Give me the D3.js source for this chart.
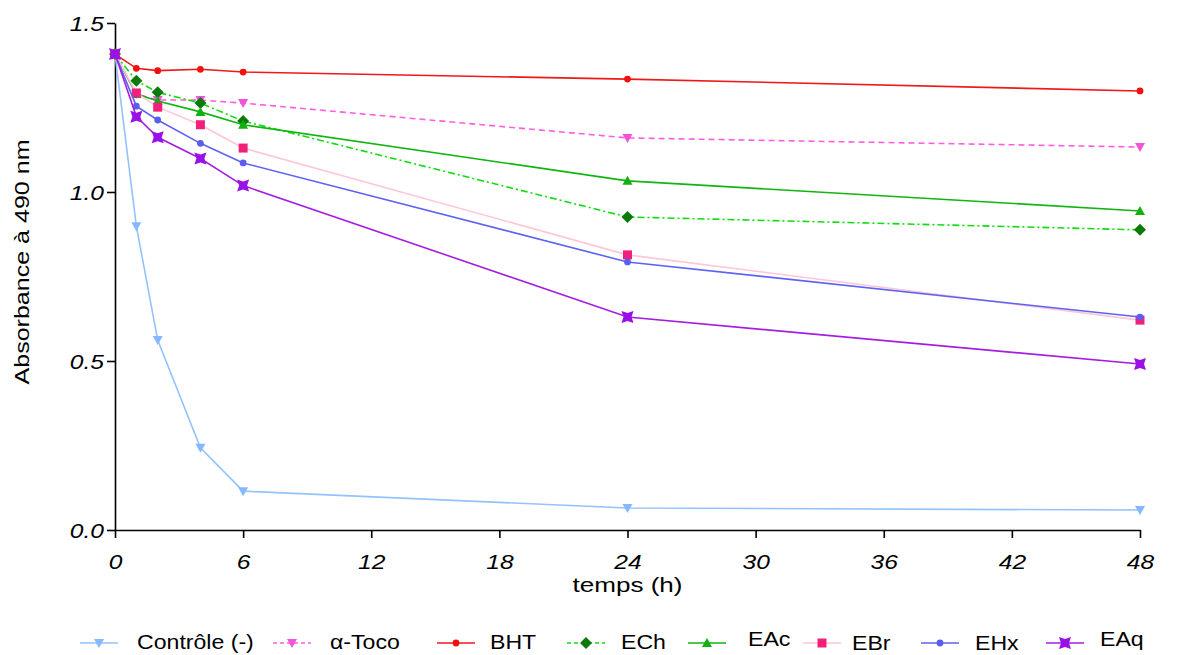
<!DOCTYPE html>
<html>
<head>
<meta charset="utf-8">
<script src="https://cdn.jsdelivr.net/npm/d3@7"></script>
<style>
  body { margin: 0; background: #fff; }
  svg text { font-family: "Liberation Sans", Arial, sans-serif; fill: #000; }
</style>
</head>
<body>
<div id="chart"></div>
<script>
// sampling times (h)
const times = [0, 1, 2, 4, 6, 24, 48];

// absorbance at 490 nm per extract
const controle = [1.408, 0.899, 0.562, 0.243, 0.115, 0.065, 0.059];
const toco     = [1.408, 1.290, 1.272, 1.272, 1.263, 1.160, 1.133];
const bht      = [1.408, 1.366, 1.359, 1.363, 1.355, 1.334, 1.299];
const ech      = [1.408, 1.329, 1.295, 1.263, 1.210, 0.926, 0.888];
const eac      = [1.408, 1.290, 1.269, 1.237, 1.199, 1.033, 0.944];
const ebr      = [1.408, 1.293, 1.251, 1.199, 1.130, 0.814, 0.621];
const ehx      = [1.408, 1.254, 1.213, 1.144, 1.086, 0.793, 0.630];
const eaq      = [1.408, 1.223, 1.162, 1.099, 1.019, 0.630, 0.491];

const seriesNames = ["Contrôle (-)", "α-Toco", "BHT", "ECh", "EAc", "EBr", "EHx", "EAq"];
const xTicks = [0, 6, 12, 18, 24, 30, 36, 42, 48];
const yTicks = [0, 0.5, 1.0, 1.5];

const series = [
  {name: seriesNames[0], values: controle, line: "#94c2ff", mark: "#86b8ff", shape: "tri", dash: null},
  {name: seriesNames[1], values: toco,     line: "#ff5ee0", mark: "#f055d8", shape: "tri", dash: "6,4"},
  {name: seriesNames[2], values: bht,      line: "#f01818", mark: "#f01010", shape: "circle", dash: null},
  {name: seriesNames[3], values: ech,      line: "#10dd10", mark: "#0a7a0a", shape: "diamond", dash: "7,3,2,3"},
  {name: seriesNames[4], values: eac,      line: "#12b412", mark: "#10b010", shape: "triup", dash: null},
  {name: seriesNames[5], values: ebr,      line: "#ffc6d6", mark: "#f2207a", shape: "square", dash: null},
  {name: seriesNames[6], values: ehx,      line: "#5e62f2", mark: "#5a5ef0", shape: "circle", dash: null},
  {name: seriesNames[7], values: eaq,      line: "#a51ee0", mark: "#9a10e8", shape: "xsq", dash: null}
];

const W = 1177, H = 655;
const m = {left: 115, right: 37, top: 23, bottom: 125};
const stretch = 1.17; // reference glyphs are a bit wider than Liberation Sans

const svg = d3.select("#chart").append("svg")
  .attr("width", W).attr("height", H);

const x = d3.scaleLinear().domain([0, 48]).range([m.left, W - m.right]);
const y = d3.scaleLinear().domain([0, 1.5]).range([H - m.bottom, m.top]);

function widen(sel, k) {
  sel.each(function() {
    const len = this.getComputedTextLength();
    d3.select(this).attr("textLength", len * k).attr("lengthAdjust", "spacingAndGlyphs");
  });
}

// axes
const xAxis = svg.append("g")
  .attr("transform", "translate(0," + (H - m.bottom) + ")")
  .call(d3.axisBottom(x).tickValues(xTicks).tickSize(8).tickSizeOuter(0).tickFormat(d3.format("d")));
const yAxis = svg.append("g")
  .attr("transform", "translate(" + m.left + ",0)")
  .call(d3.axisLeft(y).tickValues(yTicks).tickSize(8).tickSizeOuter(0).tickFormat(d3.format(".1f")));

[xAxis, yAxis].forEach(a => {
  a.select(".domain").attr("stroke", "#000").attr("stroke-width", 1.6);
  a.selectAll(".tick line").attr("stroke", "#000").attr("stroke-width", 1.6);
  a.selectAll(".tick text")
    .style("font-family", "'Liberation Sans', Arial, sans-serif")
    .style("font-style", "italic")
    .style("font-size", "21px")
    .attr("fill", "#000");
});
xAxis.selectAll(".tick text").attr("y", 39).attr("dy", 0);
yAxis.selectAll(".tick text").attr("x", -11).attr("dy", "0.35em");
widen(xAxis.selectAll(".tick text"), stretch);
widen(yAxis.selectAll(".tick text"), stretch);

// axis titles
svg.append("text")
  .attr("x", (m.left + W - m.right) / 2).attr("y", 592)
  .attr("text-anchor", "middle")
  .style("font-size", "21px")
  .text("temps (h)")
  .attr("textLength", 110).attr("lengthAdjust", "spacingAndGlyphs");

svg.append("text")
  .attr("transform", "translate(29," + 262 + ") rotate(-90)")
  .attr("text-anchor", "middle")
  .style("font-size", "21px")
  .text("Absorbance à 490 nm")
  .attr("textLength", 245).attr("lengthAdjust", "spacingAndGlyphs");

// marker shapes
function markerPath(shape) {
  switch (shape) {
    case "tri": return "M-5,-4L5,-4L0,5Z";
    case "triup": return "M-5,4L5,4L0,-5Z";
    case "circle": return d3.symbol(d3.symbolCircle, 36)();
    case "diamond": return "M0,-6L6,0L0,6L-6,0Z";
    case "square": return "M-4.5,-4.5H4.5V4.5H-4.5Z";
    case "xsq": return "M-6,-6L0,-4L6,-6L4,0L6,6L0,4L-6,6L-4,0Z";
  }
}

const line = d3.line().x((d, i) => x(times[i])).y(d => y(d));

const plot = svg.append("g");
series.forEach(s => {
  const g = plot.append("g");
  g.append("path")
    .attr("d", line(s.values))
    .attr("fill", "none")
    .attr("stroke", s.line)
    .attr("stroke-width", 1.6)
    .attr("stroke-dasharray", s.dash);
  g.selectAll("path.pt").data(s.values).join("path")
    .attr("class", "pt")
    .attr("transform", (d, i) => "translate(" + x(times[i]) + "," + y(d) + ")")
    .attr("d", markerPath(s.shape))
    .attr("fill", s.mark);
});

// legend
const legendX = [80, 273, 437, 567, 688, 803, 921, 1046];
const legendTextX = [137, 330, 490, 621, 748, 852, 975, 1100];
const legendBase = [649, 649, 649, 649, 646, 650, 650, 646];
const legend = svg.append("g");
series.forEach((s, i) => {
  const lx = legendX[i];
  legend.append("line")
    .attr("x1", lx).attr("x2", lx + 38).attr("y1", 643).attr("y2", 643)
    .attr("stroke", s.line).attr("stroke-width", 1.6)
    .attr("stroke-dasharray", s.dash ? "4,3" : null);
  legend.append("path")
    .attr("transform", "translate(" + (lx + 19) + ",643)")
    .attr("d", markerPath(s.shape))
    .attr("fill", s.mark);
  legend.append("text")
    .attr("x", legendTextX[i]).attr("y", legendBase[i])
    .style("font-size", "21px")
    .text(s.name)
    .call(widen, 1.1);
});
</script>
</body>
</html>
